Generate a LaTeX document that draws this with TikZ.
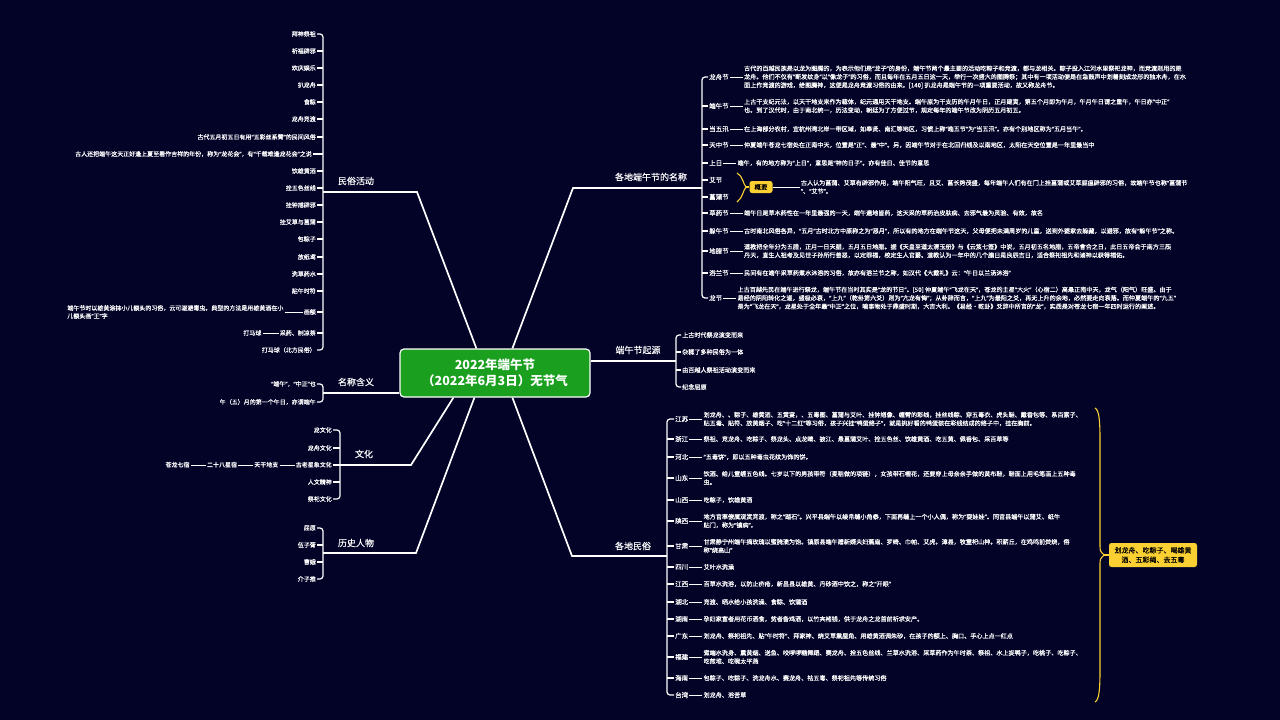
\documentclass[tikz,border=0pt]{standalone}
\usepackage{fontspec}
\setmainfont{Noto Sans CJK SC}[UprightFeatures={FakeBold=0.3}]
\newfontfamily\qfont{Noto Sans}[UprightFeatures={FakeBold=0.3}]
\usetikzlibrary{calc}
\definecolor{bgc}{RGB}{3,3,40}
\definecolor{grn}{RGB}{26,160,30}
\definecolor{ylw}{RGB}{250,208,50}
\begingroup
\catcode`“=\active \catcode`”=\active
\gdef“{{\qfont\char"201C}}
\gdef”{{\qfont\char"201D}}
\endgroup
\AtBeginDocument{\catcode`“=\active\catcode`”=\active}
\tikzset{
  ctr/.style={draw=white, line width=1.2pt, fill=grn, rounded corners=4pt, minimum width=190pt, minimum height=48pt, text=white, font=\bfseries\fontsize{12.5}{16}\selectfont, align=center, inner sep=2pt},
  mlbl/.style={font=\fontsize{9}{11}\selectfont, text=white, inner sep=1pt},
  rl/.style={font=\fontsize{6.5}{8}\selectfont, text=white, inner sep=1pt, anchor=west},
  ll/.style={font=\fontsize{6}{8}\selectfont, text=white, inner sep=1pt, anchor=east},
  ds/.style={font=\fontsize{6.1}{8.4}\selectfont, text=white, inner sep=1pt, anchor=west, align=left},
  branch/.style={draw=white, line width=1.7pt},
  brk/.style={draw=white, line width=1.2pt, rounded corners=3pt},
  tk/.style={draw=white, line width=1.2pt},
  link/.style={draw=white, line width=1pt},
  ybr/.style={draw=ylw, line width=1.1pt},
  ybox/.style={fill=ylw, rounded corners=2.5pt, text=black, inner sep=1pt},
}
\begin{document}
\begin{tikzpicture}[x=1pt,y=-1pt]
\fill[bgc] (0,0) rectangle (1280,720);
\useasboundingbox (0,0) rectangle (1280,720);

% ---------- centre ----------
\node[ctr] (C) at (495,373) {2022年端午节\\（2022年6月3日）无节气};

% bracket coordinates
\coordinate (bN) at (702,188);
\coordinate (bO) at (676,361);
\coordinate (bG) at (667,556);
\coordinate (bM) at (323,192);
\coordinate (bK) at (323,393);
\coordinate (bW) at (340,465);
\coordinate (bH) at (323,553);

% main branches
\draw[branch] ($(C.north west)+(113,0)$) -- (573,188) -- (bN);
\draw[branch] (C.east |- bO) -- (bO);
\draw[branch] ($(C.south west)+(113,0)$) -- (572,556) -- (bG);
\draw[branch] ($(C.north west)+(77,0)$) -- (417,192) -- (bM);
\draw[branch] (C.west |- bK) -- (bK);
\draw[branch] ($(C.south west)+(54,0)$) -- (411,465) -- (bW);
\draw[branch] ($(C.south west)+(75,0)$) -- (416,553) -- (bH);

\node[mlbl] (T1) at (651,177) {各地端午节的名称};
\node[mlbl] (T2) at (638,350) {端午节起源};
\node[mlbl] (T3) at (633,546) {各地民俗};
\node[mlbl] (T4) at (356,181) {民俗活动};
\node[mlbl] (T5) at (356,382) {名称含义};
\node[mlbl] (T6) at (364,454) {文化};
\node[mlbl] (T7) at (356,543) {历史人物};

% ---------- names ----------
\node[rl] (a1) at (708,77) {龙舟节};
\node[rl] (a2) at (708,106) {端午节};
\node[rl] (a3) at (708,129) {当五汛};
\node[rl] (a4) at (708,145) {天中节};
\node[rl] (a5) at (708,163) {上日};
\node[rl] (a6) at (708,180) {艾节};
\node[rl] (a7) at (708,197) {菖蒲节};
\node[rl] (a8) at (708,213) {草药节};
\node[rl] (a9) at (708,231) {躲午节};
\node[rl] (a10) at (708,251) {地腊节};
\node[rl] (a11) at (708,273) {浴兰节};
\node[rl] (a12) at (708,298) {龙节};
\draw[brk] (a1.west) -- (a1.west -| bN) -- (a12.west -| bN) -- (a12.west);
\foreach \i in {2,...,11} \draw[tk] (a\i.west) -- (a\i.west -| bN);

\node[ds] (da1) at ([xshift=13]a1.east) {古代的百越民族是以龙为图腾的，为表示他们是“龙子”的身份，端午节两个最主要的活动吃粽子和竞渡，都与龙相关。粽子投入江河水里祭祀龙神，而竞渡则用的是\\龙舟。他们不仅有“断发纹身”以“像龙子”的习俗，而且每年在五月五日这一天，举行一次盛大的图腾祭；其中有一项活动便是在急鼓声中划着刻成龙形的独木舟，在水\\面上作竞渡的游戏，给图腾神，这便是龙舟竞渡习俗的由来。[140] 扒龙舟是端午节的一项重要活动，故又称龙舟节。};
\node[ds] (da2) at ([xshift=13]a2.east) {上古干支纪元法，以天干地支来作为载体，纪元通用天干地支。端午原为干支历的午月午日，正月建寅，第五个月即为午月，午月午日谓之重午，午日亦“中正”\\也。到了汉代时，由于南北统一，历法变动，朝廷为了方便过节，规定每年的端午节改为阴历五月初五。};
\node[ds] (da3) at ([xshift=13]a3.east) {在上海部分农村，宜杭州湾北岸一带区域，如奉贤、南汇等地区，习惯上称“端五节”为“当五汛”。亦有个别地区称为“五月当午”。};
\node[ds] (da4) at ([xshift=13]a4.east) {仲夏端午苍龙七宿处在正南中天，位置是“正”、最“中”。另，因端午节对于在北回归线及以南地区，太阳在天空位置是一年里最当中};
\node[ds] (da5) at ([xshift=13]a5.east) {端午，有的地方称为“上日”，意思是“神的日子”。亦有佳日、佳节的意思};
\node[ds] (da8) at ([xshift=13]a8.east) {端午日是草木药性在一年里最强的一天，端午遍地皆药，这天采的草药治皮肤病、去邪气最为灵验、有效，故名};
\node[ds] (da9) at ([xshift=13]a9.east) {古时南北风俗各异，“五月”古时北方中原称之为“恶月”，所以有的地方在端午节这天，父母便把未满周岁的儿童，送到外婆家去躲藏，以避邪，故有“躲午节”之称。};
\node[ds] (da10) at ([xshift=13]a10.east) {道教把全年分为五腊，正月一日天腊，五月五日地腊。据《天皇至道太清玉册》与《云笈七签》中说，五月初五名地腊，五帝會合之日，此日五帝会于南方三炁\\丹天，直生人祖考及见世子孙所行善恶，以定罪福，校定生人官爵。道教认为一年中的几个腊日是良辰吉日，适合祭祀祖先和诸神以获得福佑。};
\node[ds] (da11) at ([xshift=13]a11.east) {民间有在端午采草药煮水沐浴的习俗，故亦有浴兰节之称，如汉代《大戴礼》云：“午日以兰汤沐浴”};
\node[ds] (da12) at ([xshift=13]a12.east) {上古百越先民在端午进行祭龙，端午节在当时其实是“龙的节日”。[50] 仲夏端午“飞龙在天”，苍龙的主星“大火”（心宿二）高悬正南中天，龙气（阳气）旺盛。由于\\易经的阴阳转化之道，盛极必衰，“上九”（乾卦第六爻）则为“亢龙有悔”；从卦辞而言，“上九”为最阳之爻，再无上升的余地，必然要走向衰落。而仲夏端午的“九五”\\是为“飞龙在天”，龙星处于全年最“中正”之位，喻事物处于鼎盛时期，大吉大利。《易经·乾卦》爻辞中所言的“龙”，实质是对苍龙七宿一年四时运行的阐述。};
\foreach \i in {1,2,3,4,5,8,9,10,11,12} \draw[link] (a\i.east) -- (da\i.west);

% summary brace for 艾节 / 菖蒲节
\coordinate (yb1) at (746,187);
\draw[ybr] (737,173) .. controls (743,176) and (743,184) .. (yb1) .. controls (743,190) and (743,198) .. (737,202);
\node[ybox, minimum width=23pt, minimum height=12pt, font=\fontsize{6.5}{8}\selectfont] (G) at (761,187) {概要};
\draw[ybr] (yb1) -- (G.west);
\node[ds] (dG) at ([xshift=27]G.east) {古人认为菖蒲、艾草有辟邪作用，端午阳气旺，且艾、菖长势茂盛，每年端午人们有在门上挂菖蒲或艾草驱瘟辟邪的习俗，故端午节也称“菖蒲节\\”、“艾节”。};
\draw[link] (G.east) -- (dG.west);

% ---------- origins ----------
\node[ds] (o1) at (681,335) {上古时代祭龙演变而来};
\node[ds] (o2) at (681,352) {杂糅了多种民俗为一体};
\node[ds] (o3) at (681,370) {由百越人祭祖活动演变而来};
\node[ds] (o4) at (681,387) {纪念屈原};
\draw[brk] (o1.west) -- (o1.west -| bO) -- (o4.west -| bO) -- (o4.west);
\foreach \i in {2,3} \draw[tk] (o\i.west) -- (o\i.west -| bO);

% ---------- regional customs ----------
\node[rl] (g1) at (674,419) {江苏};
\node[rl] (g2) at (674,439) {浙江};
\node[rl] (g3) at (674,457) {河北};
\node[rl] (g4) at (674,478) {山东};
\node[rl] (g5) at (674,500) {山西};
\node[rl] (g6) at (674,521) {陕西};
\node[rl] (g7) at (674,546) {甘肃};
\node[rl] (g8) at (674,567) {四川};
\node[rl] (g9) at (674,584) {江西};
\node[rl] (g10) at (674,602) {湖北};
\node[rl] (g11) at (674,619) {湖南};
\node[rl] (g12) at (674,636) {广东};
\node[rl] (g13) at (674,657) {福建};
\node[rl] (g14) at (674,678) {海南};
\node[rl] (g15) at (674,695) {台湾};
\draw[brk] (g1.west) -- (g1.west -| bG) -- (g15.west -| bG) -- (g15.west);
\foreach \i in {2,...,14} \draw[tk] (g\i.west) -- (g\i.west -| bG);

\node[ds] (dg1) at ([xshift=13]g1.east) {划龙舟、、粽子、雄黄酒、五黄宴，、五毒图、菖蒲与艾叶、挂钟馗像、缠臂的彩线，挂丝线粽、穿五毒衣、虎头鞋、戴香包等、系百索子、\\贴五毒、贴符、放黄烟子、吃“十二红”等习俗，孩子兴挂“鸭蛋络子”，就是挑好看的鸭蛋装在彩线结成的络子中，挂在胸前。};
\node[ds] (dg2) at ([xshift=13]g2.east) {祭祖、竞龙舟、吃粽子、祭龙头、点龙睛、披江、悬菖蒲艾叶、拴五色丝、饮雄黄酒、吃五黄、佩香包、采百草等};
\node[ds] (dg3) at ([xshift=13]g3.east) {“五毒饼”，即以五种毒虫花纹为饰的饼。};
\node[ds] (dg4) at ([xshift=13]g4.east) {饮酒、给儿童缠五色线。七岁以下的男孩带符（麦秸做的项链），女孩带石榴花，还要穿上母亲亲手做的黄布鞋，鞋面上用毛笔画上五种毒\\虫。};
\node[ds] (dg5) at ([xshift=13]g5.east) {吃粽子，饮雄黄酒};
\node[ds] (dg6) at ([xshift=13]g6.east) {地方官率僚属观赏竞渡，称之“踏石”。兴平县端午以绫帛缝小角黍，下面再缝上一个小人偶，称为“耍娃娃”。同官县端午以蒲艾、纸牛\\贴门，称为“镇病”。};
\node[ds] (dg7) at ([xshift=13]g7.east) {甘肃静宁州端午摘玫瑰以蜜腌渍为饴。镇原县端午赠新婿夫妇蕉扇、罗绮、巾帕、艾虎。漳县，牧童祀山神。积薪丘，在鸡鸣前焚烧，俗\\称“烧高山”};
\node[ds] (dg8) at ([xshift=13]g8.east) {艾叶水洗澡};
\node[ds] (dg9) at ([xshift=13]g9.east) {百草水洗浴，以防止疥疮，新昌县以雄黄、丹砂酒中饮之，称之“开眼”};
\node[ds] (dg10) at ([xshift=13]g10.east) {竞渡、晒水给小孩洗澡、食粽、饮蒲酒};
\node[ds] (dg11) at ([xshift=13]g11.east) {孕妇家富者用花币酒食，贫者备鸡酒，以竹夹楮钱，供于龙舟之龙首前祈求安产。};
\node[ds] (dg12) at ([xshift=13]g12.east) {划龙舟、祭祀祖先、贴“午时符”、拜家神、烧艾草熏屋角、用雄黄酒调朱砂，在孩子的额上、胸口、手心上点一红点};
\node[ds] (dg13) at ([xshift=13]g13.east) {煮端水洗身、熏黄烟、送鱼、咬啰啰糖舞蹈、赛龙舟、拴五色丝线、兰草水洗浴、采草药作为午时茶、祭祖、水上捉鸭子，吃桃子、吃粽子、\\吃煎堆、吃碗太平燕};
\node[ds] (dg14) at ([xshift=13]g14.east) {包粽子、吃粽子、洗龙舟水、赛龙舟、祛五毒、祭祀祖先等传统习俗};
\node[ds] (dg15) at ([xshift=13]g15.east) {划龙舟、浴苦草};
\foreach \i in {1,...,15} \draw[link] (g\i.east) -- (dg\i.west);

% big summary brace
\coordinate (yb2) at (1104,555);
\draw[ybr] (1095,408) .. controls (1099,410) and (1100,420) .. (1100,440) -- (1100,545) .. controls (1100,551) .. (yb2) .. controls (1100,559) .. (1100,565) -- (1100,670) .. controls (1100,690) and (1099,700) .. (1095,702);
\node[ybox, minimum width=88pt, minimum height=24pt, align=center, font=\fontsize{7}{9.5}\selectfont] (Y) at (1153,555) {划龙舟、吃粽子、喝雄黄\\酒、五彩绳、去五毒};
\draw[ybr] (yb2) -- (Y.west);

% ---------- folk activities ----------
\node[ll] (m1) at (317,34) {拜神祭祖};
\node[ll] (m2) at (317,51) {祈福辟邪};
\node[ll] (m3) at (317,68) {欢庆娱乐};
\node[ll] (m4) at (317,85) {扒龙舟};
\node[ll] (m5) at (317,102) {食粽};
\node[ll] (m6) at (317,119) {龙舟竞渡};
\node[ll] (m7) at (317,137) {古代五月初五日有用“五彩丝系臂”的民间风俗};
\node[ll] (m8) at (313,154) {古人还把端午这天正好逢上夏至看作吉祥的年份，称为“龙花会”，有“千载难逢龙花会”之说};
\node[ll] (m9) at (317,171) {饮雄黄酒};
\node[ll] (m10) at (317,188) {拴五色丝线};
\node[ll] (m11) at (317,205) {挂钟馗辟邪};
\node[ll] (m12) at (317,222) {挂艾草与菖蒲};
\node[ll] (m13) at (317,239) {包粽子};
\node[ll] (m14) at (317,257) {放纸鸢};
\node[ll] (m15) at (317,274) {洗草药水};
\node[ll] (m16) at (317,291) {贴午时符};
\node[ll] (m17) at (317,312) {画额};
\node[ll] (m18) at (317,333) {采药、制凉茶};
\node[ll] (m19) at (317,350) {打马球（北方民俗）};
\draw[brk] (m1.east) -- (m1.east -| bM) -- (m19.east -| bM) -- (m19.east);
\foreach \i in {2,...,18} \draw[tk] (m\i.east) -- (m\i.east -| bM);
\node[ll, align=left] (m17d) at ([xshift=-18]m17.west) {端午节时以雄黄涂抹小儿额头的习俗，云可驱避毒虫。典型的方法是用雄黄酒在小\\儿额头画“王”字};
\draw[link] (m17d.east) -- (m17.west);
\node[ll] (m18d) at ([xshift=-16]m18.west) {打马球};
\draw[link] (m18d.east) -- (m18.west);

% ---------- name meaning ----------
\node[ll] (k1) at (317,384) {“端午”，“中正”也};
\node[ll] (k2) at (317,402) {午（五）月的第一个午日，亦谓端午};
\draw[brk] (k1.east) -- (k1.east -| bK) -- (k2.east -| bK) -- (k2.east);

% ---------- culture ----------
\node[ll] (w1) at (333,430) {龙文化};
\node[ll] (w2) at (333,448) {龙舟文化};
\node[ll, font=\bfseries\fontsize{6}{8}\selectfont] (w3) at (333,465) {古老星象文化};
\node[ll] (w4) at (333,482) {人文精神};
\node[ll] (w5) at (333,499) {祭祀文化};
\draw[brk] (w1.east) -- (w1.east -| bW) -- (w5.east -| bW) -- (w5.east);
\foreach \i in {2,3,4} \draw[tk] (w\i.east) -- (w\i.east -| bW);
\node[ll, font=\bfseries\fontsize{6}{8}\selectfont] (w3a) at ([xshift=-15]w3.west) {天干地支};
\node[ll, font=\bfseries\fontsize{6}{8}\selectfont] (w3b) at ([xshift=-15]w3a.west) {二十八星宿};
\node[ll, font=\bfseries\fontsize{6}{8}\selectfont] (w3c) at ([xshift=-15]w3b.west) {苍龙七宿};
\draw[link] (w3a.east) -- (w3.west);
\draw[link] (w3b.east) -- (w3a.west);
\draw[link] (w3c.east) -- (w3b.west);

% ---------- historical figures ----------
\node[ll] (h1) at (317,528) {屈原};
\node[ll] (h2) at (317,545) {伍子胥};
\node[ll] (h3) at (317,562) {曹娥};
\node[ll] (h4) at (317,579) {介子推};
\draw[brk] (h1.east) -- (h1.east -| bH) -- (h4.east -| bH) -- (h4.east);
\foreach \i in {2,3} \draw[tk] (h\i.east) -- (h\i.east -| bH);
\end{tikzpicture}
\end{document}
